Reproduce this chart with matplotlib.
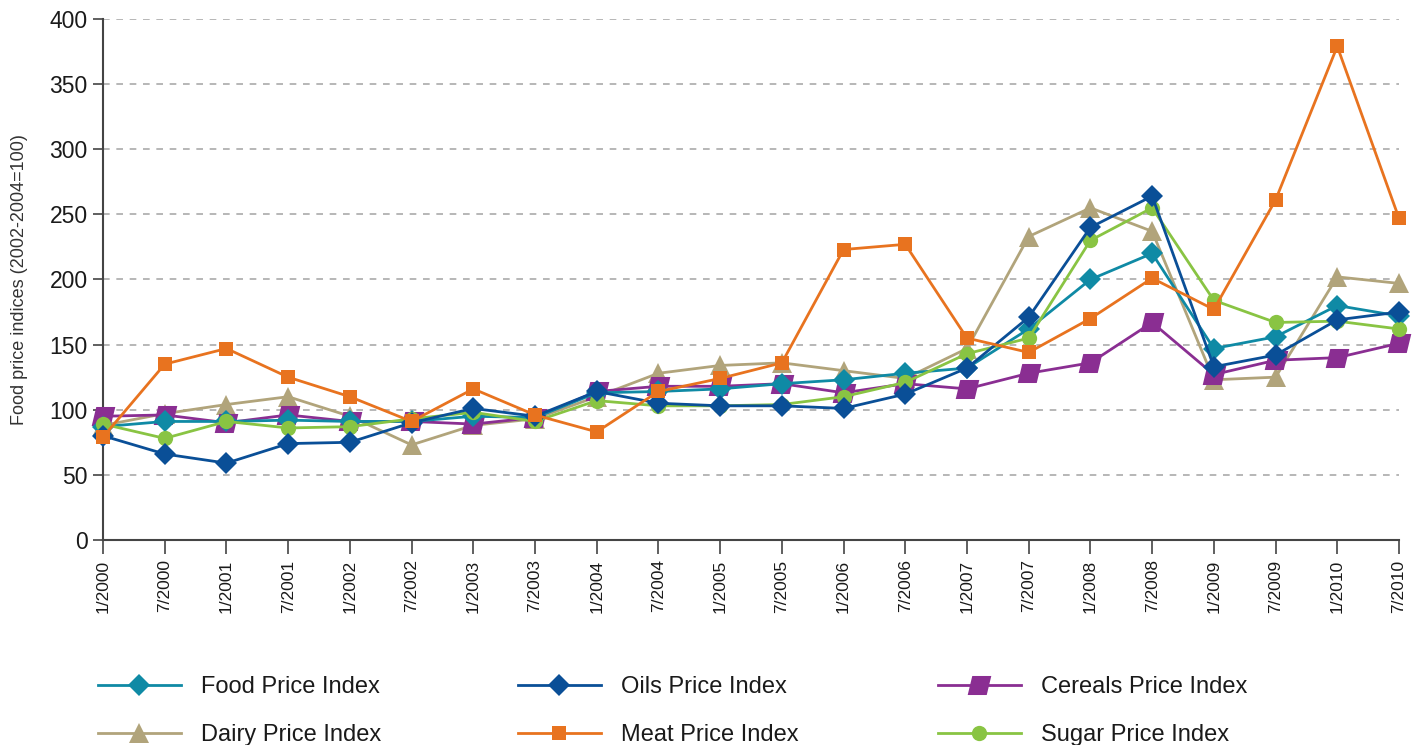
import matplotlib
matplotlib.use("Agg")
import matplotlib.pyplot as plt
from matplotlib.path import Path

dates = ["1/2000", "7/2000", "1/2001", "7/2001", "1/2002", "7/2002", "1/2003", "7/2003",
         "1/2004", "7/2004", "1/2005", "7/2005", "1/2006", "7/2006", "1/2007", "7/2007",
         "1/2008", "7/2008", "1/2009", "7/2009", "1/2010", "7/2010"]

food = [87, 91, 91, 92, 91, 91, 95, 94, 113, 114, 116, 120, 123, 128, 132, 162,
        200, 220, 147, 156, 180, 172]
oils = [80, 66, 59, 74, 75, 90, 101, 95, 114, 105, 103, 103, 101, 112, 132, 171,
        240, 264, 133, 142, 169, 175]
cereals = [95, 96, 90, 96, 91, 91, 89, 94, 114, 118, 118, 120, 113, 120, 116, 128,
           136, 167, 127, 138, 140, 151]
dairy = [88, 97, 104, 110, 95, 73, 88, 93, 110, 128, 134, 136, 130, 124, 147, 233,
         255, 237, 123, 125, 202, 197]
meat = [79, 135, 147, 125, 110, 91, 116, 96, 83, 114, 124, 136, 223, 227, 155, 144,
        170, 201, 177, 261, 379, 247]
sugar = [89, 78, 91, 86, 87, 93, 98, 91, 107, 103, 103, 104, 110, 121, 143, 155,
         230, 255, 184, 167, 168, 162]

y_ticks = [0, 50, 100, 150, 200, 250, 300, 350, 400]

plt.rcParams['font.family'] = ['Liberation Sans', 'DejaVu Sans']

# slanted square used for the cereals series
slant = Path([(-0.62, -0.5), (0.38, -0.5), (0.62, 0.5), (-0.38, 0.5), (-0.62, -0.5)],
             [Path.MOVETO, Path.LINETO, Path.LINETO, Path.LINETO, Path.CLOSEPOLY])

# label, values, colour, marker, marker size, stacking order
series = {
    "food": ("Food Price Index", food, "#0f8aa5", "D", 11, 3),
    "oils": ("Oils Price Index", oils, "#0a4f97", "D", 11, 5),
    "cereals": ("Cereals Price Index", cereals, "#8a2e92", slant, 17, 2),
    "dairy": ("Dairy Price Index", dairy, "#b1a47b", "^", 14, 1),
    "meat": ("Meat Price Index", meat, "#e8731f", "s", 10.5, 6),
    "sugar": ("Sugar Price Index", sugar, "#89c443", "o", 11, 4),
}

fig = plt.figure(figsize=(14.21, 7.45), dpi=100)
ax = fig.add_axes([0.0725, 0.2752, 0.912, 0.6993])

x = list(range(len(dates)))
handles = {}
for key, (label, vals, color, marker, ms, z) in series.items():
    h, = ax.plot(x, vals, color=color, marker=marker, markersize=ms, linewidth=2,
                 markeredgewidth=0, label=label, zorder=z + 2, clip_on=False)
    handles[key] = h

ax.set_xlim(0, len(dates) - 1)
ax.set_ylim(0, 400)
ax.set_yticks(y_ticks)
ax.set_xticks(x)
ax.set_xticklabels(dates, rotation=90, fontsize=12.5, color="#1a1a1a")
ax.tick_params(axis='y', labelsize=16.5, colors="#1a1a1a", length=7, width=1.2,
               color="#444444", pad=4)
ax.tick_params(axis='x', length=10, width=1.2, color="#444444", pad=4)

for v in y_ticks[1:]:
    ax.axhline(v, color="#aaaaaa", linestyle=(0, (4, 4)), linewidth=1.2, zorder=0)

for s in ["top", "right"]:
    ax.spines[s].set_visible(False)
for s in ["left", "bottom"]:
    ax.spines[s].set_color("#444444")
    ax.spines[s].set_linewidth(1.5)

ax.set_ylabel("Food price indices (2002-2004=100)", fontsize=13, color="#333333")
ax.yaxis.set_label_coords(-0.058, 0.5)

# three legend columns, two rows each
columns = [(["food", "dairy"], 98), (["oils", "meat"], 518), (["cereals", "sugar"], 938)]
for keys, px in columns:
    leg = fig.legend(handles=[handles[k] for k in keys], loc="center left",
                     bbox_to_anchor=(px / 1421, 1 - 711 / 745), frameon=False,
                     fontsize=17, handlelength=3.5, handletextpad=0.85,
                     labelspacing=1.1, borderpad=0, borderaxespad=0,
                     labelcolor="#1a1a1a")

fig.savefig("out.png", dpi=100)
